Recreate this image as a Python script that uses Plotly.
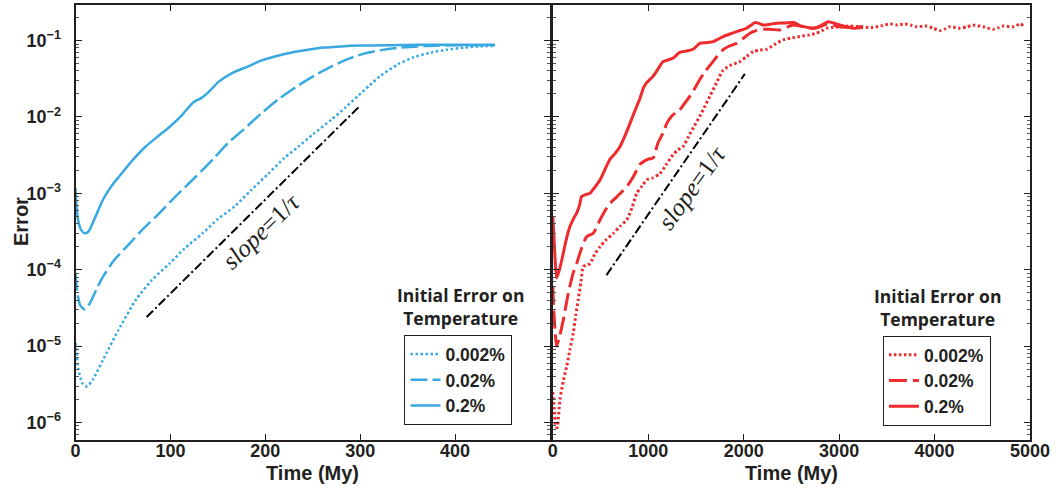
import plotly.graph_objects as go

# ---------------- data (left panel, Time in My) ----------------
blue_solid_t = [0, 1, 3, 6, 10, 14, 20, 29, 38, 46, 60, 74, 87, 99, 112, 124, 132, 140, 151, 166, 182, 196, 210, 228, 245, 262, 280, 300, 330, 360, 400, 442]
blue_solid_v = [1.17e-3, 7e-4, 4.3e-4, 3.3e-4, 3.0e-4, 3.2e-4, 4.6e-4, 8.3e-4, 1.25e-3, 1.66e-3, 2.7e-3, 4.1e-3, 5.6e-3, 7.4e-3, 1.05e-2, 1.55e-2, 1.75e-2, 2.1e-2, 2.9e-2, 3.8e-2, 4.6e-2, 5.5e-2, 6.2e-2, 7.0e-2, 7.6e-2, 8.1e-2, 8.4e-2, 8.6e-2, 8.7e-2, 8.8e-2, 8.8e-2, 8.8e-2]

blue_dash_t = [0, 2, 5, 10, 15, 22, 29, 40, 57, 70, 85, 105, 127, 145, 161, 178, 196, 215, 235, 252, 270, 288, 305, 322, 339, 360, 385, 415, 442]
blue_dash_v = [8.9e-5, 5e-5, 3.4e-5, 3.0e-5, 3.6e-5, 5.5e-5, 8.1e-5, 1.3e-4, 2.2e-4, 3.3e-4, 5e-4, 9e-4, 1.66e-3, 2.8e-3, 4.6e-3, 7e-3, 1.12e-2, 1.75e-2, 2.6e-2, 3.5e-2, 4.6e-2, 5.8e-2, 6.8e-2, 7.5e-2, 8e-2, 8.4e-2, 8.6e-2, 8.7e-2, 8.7e-2]

blue_dot_t = [0, 3, 7, 12, 18, 29, 45, 64, 80, 99, 115, 134, 150, 168, 185, 203, 220, 235, 250, 270, 285, 298, 310, 322, 340, 357, 375, 391, 410, 425, 442]
blue_dot_v = [1.1e-5, 5e-6, 3.3e-6, 2.95e-6, 3.6e-6, 6.6e-6, 1.6e-5, 4.1e-5, 7.2e-5, 1.2e-4, 1.9e-4, 3e-4, 4.6e-4, 6.8e-4, 1.1e-3, 1.8e-3, 2.9e-3, 4.1e-3, 5.9e-3, 9.3e-3, 1.35e-2, 1.9e-2, 2.6e-2, 3.5e-2, 4.9e-2, 6.1e-2, 7e-2, 7.6e-2, 8.1e-2, 8.4e-2, 8.5e-2]

slope_left_t = [75, 299]
slope_left_v = [2.4e-5, 1.37e-2]

# ---------------- data (right panel) ----------------
red_solid_t = [0, 10, 25, 40, 70, 110, 145, 180, 215, 250, 280, 302, 340, 390, 440, 495, 550, 600, 650, 705, 760, 810, 860, 913, 950, 981, 1018, 1050, 1100, 1155, 1210, 1260, 1330, 1400, 1470, 1540, 1610, 1680, 1735, 1785, 1855, 1925, 1980, 2030, 2080, 2117, 2160, 2204, 2270, 2344, 2430, 2518, 2560, 2588, 2660, 2728, 2800, 2885, 2940, 3007, 3080, 3147, 3250]
red_solid_v = [5e-4, 3e-4, 1.3e-4, 7.8e-5, 1e-4, 1.65e-4, 2.6e-4, 3.7e-4, 4.6e-4, 5.5e-4, 7e-4, 9.1e-4, 9.6e-4, 1e-3, 1.2e-3, 1.5e-3, 2.1e-3, 2.8e-3, 3.3e-3, 4.1e-3, 5.8e-3, 8.3e-3, 1.2e-2, 1.75e-2, 2.4e-2, 2.8e-2, 3.1e-2, 3.4e-2, 4.2e-2, 5.3e-2, 5.6e-2, 5.9e-2, 7e-2, 7.3e-2, 7.7e-2, 9.2e-2, 9.4e-2, 9.7e-2, 1.05e-1, 1.13e-1, 1.22e-1, 1.31e-1, 1.38e-1, 1.45e-1, 1.6e-1, 1.72e-1, 1.68e-1, 1.6e-1, 1.63e-1, 1.69e-1, 1.7e-1, 1.72e-1, 1.65e-1, 1.56e-1, 1.5e-1, 1.45e-1, 1.55e-1, 1.77e-1, 1.7e-1, 1.6e-1, 1.5e-1, 1.45e-1, 1.48e-1]

red_dash_t = [0, 10, 25, 40, 75, 110, 162, 214, 250, 285, 354, 424, 495, 550, 600, 670, 740, 790, 845, 913, 950, 1000, 1050, 1100, 1155, 1200, 1245, 1290, 1330, 1380, 1435, 1490, 1540, 1600, 1662, 1720, 1785, 1850, 1925, 2000, 2065, 2130, 2204, 2290, 2378, 2450, 2518, 2600, 2728, 2800, 2867, 2940, 3007, 3100, 3250]
red_dash_v = [6e-5, 3e-5, 1.5e-5, 1e-5, 1.4e-5, 2.2e-5, 4.9e-5, 9.1e-5, 1.2e-4, 1.66e-4, 2.7e-4, 3e-4, 4.5e-4, 6e-4, 7.4e-4, 9e-4, 1.1e-3, 1.3e-3, 1.66e-3, 2.4e-3, 2.6e-3, 2.8e-3, 2.9e-3, 4.5e-3, 6.2e-3, 8.5e-3, 1.02e-2, 1.15e-2, 1.24e-2, 1.5e-2, 1.86e-2, 2.4e-2, 3.1e-2, 4e-2, 5e-2, 6.2e-2, 7.6e-2, 8.5e-2, 9.2e-2, 1.08e-1, 1.25e-1, 1.35e-1, 1.41e-1, 1.4e-1, 1.38e-1, 1.5e-1, 1.6e-1, 1.55e-1, 1.45e-1, 1.52e-1, 1.65e-1, 1.6e-1, 1.52e-1, 1.5e-1, 1.52e-1]

red_dot_t = [0, 15, 30, 45, 75, 110, 145, 180, 214, 240, 267, 295, 320, 355, 390, 440, 495, 565, 635, 705, 775, 830, 880, 935, 985, 1050, 1120, 1190, 1260, 1310, 1366, 1420, 1480, 1540, 1590, 1645, 1715, 1785, 1870, 1960, 2030, 2100, 2170, 2240, 2330, 2414, 2500, 2588, 2680, 2762, 2820, 2867, 2940, 3007, 3110, 3215, 3355, 3450, 3534, 3610, 3688, 3750, 3810, 3915, 3990, 4055, 4110, 4160, 4265, 4340, 4405, 4510, 4614, 4670, 4720, 4825, 4895, 4930]
red_dot_v = [2.5e-6, 1.5e-6, 9e-7, 8.5e-7, 2e-6, 3.5e-6, 5.4e-6, 9e-6, 1.47e-5, 2.5e-5, 4.1e-5, 7e-5, 1.1e-4, 1.15e-4, 1.2e-4, 1.6e-4, 2e-4, 2.5e-4, 3e-4, 3.7e-4, 4.5e-4, 6.5e-4, 1e-3, 1.25e-3, 1.5e-3, 1.6e-3, 1.8e-3, 2.4e-3, 3.2e-3, 3.7e-3, 4.1e-3, 5.5e-3, 7.5e-3, 1.02e-2, 1.35e-2, 1.86e-2, 2.8e-2, 4.1e-2, 4.8e-2, 5.3e-2, 6.2e-2, 7.2e-2, 7.5e-2, 7.7e-2, 9e-2, 1.02e-1, 1.08e-1, 1.13e-1, 1.18e-1, 1.25e-1, 1.35e-1, 1.45e-1, 1.5e-1, 1.52e-1, 1.55e-1, 1.52e-1, 1.48e-1, 1.57e-1, 1.65e-1, 1.6e-1, 1.65e-1, 1.6e-1, 1.52e-1, 1.55e-1, 1.45e-1, 1.35e-1, 1.42e-1, 1.52e-1, 1.45e-1, 1.52e-1, 1.59e-1, 1.52e-1, 1.41e-1, 1.48e-1, 1.55e-1, 1.52e-1, 1.65e-1, 1.58e-1]

slope_right_t = [563, 2012]
slope_right_v = [8.5e-5, 3.66e-2]

legend_labels = ["0.002%", "0.02%", "0.2%"]
legend_title = "Initial Error on<br>Temperature"
y_tickvals = [1e-6, 1e-5, 1e-4, 1e-3, 1e-2, 1e-1]
y_ticktext = ["10<sup>\u22126</sup>", "10<sup>\u22125</sup>", "10<sup>\u22124</sup>",
              "10<sup>\u22123</sup>", "10<sup>\u22122</sup>", "10<sup>\u22121</sup>"]
y_minor_vals = [m * 10.0 ** k for k in range(-7, 0) for m in range(2, 10)]
xl_ticks = [0, 100, 200, 300, 400]
xr_ticks = [0, 1000, 2000, 3000, 4000, 5000]

BLUE = "#39a9e1"
RED = "#ee2b2d"
W, H = 1056, 492
FONT = "Liberation Sans"

fig = go.Figure()

def add(t, v, color, dash, width, name, xa, ya, leg):
    fig.add_trace(go.Scatter(x=t, y=v, mode="lines", name=name,
                             line=dict(color=color, dash=dash, width=width,
                                       shape="spline", smoothing=0.6),
                             xaxis=xa, yaxis=ya, legend=leg, legendgroup=leg + name,
                             showlegend=True))

add(blue_dot_t, blue_dot_v, BLUE, "2.5px,2.5px", 2.5, legend_labels[0], "x", "y", "legend")
add(blue_dash_t, blue_dash_v, BLUE, "17px,5px", 2.5, legend_labels[1], "x", "y", "legend")
add(blue_solid_t, blue_solid_v, BLUE, "solid", 2.5, legend_labels[2], "x", "y", "legend")
fig.add_trace(go.Scatter(x=slope_left_t, y=slope_left_v, mode="lines", showlegend=False,
                         line=dict(color="black", dash="9px,3px,2px,3px", width=2),
                         xaxis="x", yaxis="y"))

add(red_dot_t, red_dot_v, RED, "2.5px,2.5px", 3, legend_labels[0], "x2", "y2", "legend2")
add(red_dash_t, red_dash_v, RED, "18px,6px", 3, legend_labels[1], "x2", "y2", "legend2")
add(red_solid_t, red_solid_v, RED, "solid", 3, legend_labels[2], "x2", "y2", "legend2")
fig.add_trace(go.Scatter(x=slope_right_t, y=slope_right_v, mode="lines", showlegend=False,
                         line=dict(color="black", dash="9px,3px,2px,3px", width=2),
                         xaxis="x2", yaxis="y2"))

def px_x(p):
    return p / W

def px_y(p):
    return 1 - p / H

ydom = [px_y(440), px_y(4.7)]
tickfont = dict(family=FONT, size=18, color="#231f20", weight="bold")
common_ax = dict(showline=True, linecolor="#231f20", linewidth=2, mirror="ticks",
                 ticks="inside", ticklen=6, tickwidth=1.2, tickcolor="#231f20",
                 showgrid=False, zeroline=False, tickfont=tickfont, automargin=False)
ymin = dict(tickmode="array", tickvals=y_minor_vals, ticks="inside", ticklen=3,
            tickwidth=1, tickcolor="#555", showgrid=False)
legend_font = dict(family=FONT, size=17.5, weight="bold", color="#231f20")

fig.update_layout(
    width=W, height=H, margin=dict(l=0, r=0, t=0, b=0, autoexpand=False), autosize=False,
    paper_bgcolor="white", plot_bgcolor="white",
    font=dict(family=FONT, color="#231f20"),
    xaxis=dict(domain=[px_x(75.5), px_x(550)], range=[0, 500], tickvals=xl_ticks,
               ticklabelstandoff=-7, anchor="y", **common_ax),
    yaxis=dict(domain=ydom, type="log", range=[-6.23, -0.53], tickvals=y_tickvals,
               ticktext=y_ticktext, minor=ymin, anchor="x", ticklabelstandoff=9, **common_ax),
    xaxis2=dict(domain=[px_x(552.8), px_x(1030)], range=[0, 5000], tickvals=xr_ticks,
                ticklabelstandoff=-7, anchor="y2", **common_ax),
    yaxis2=dict(domain=ydom, type="log", range=[-6.23, -0.53], tickvals=y_tickvals,
                showticklabels=False, minor=ymin, anchor="x2", **common_ax),
    legend=dict(x=px_x(404.3), y=px_y(335), xanchor="left", yanchor="top",
                bgcolor="white", bordercolor="#231f20", borderwidth=1.2,
                font=legend_font, itemwidth=30, tracegroupgap=0, traceorder="normal"),
    legend2=dict(x=px_x(882.7), y=px_y(335.7), xanchor="left", yanchor="top",
                 bgcolor="white", bordercolor="#231f20", borderwidth=1.2,
                 font=legend_font, itemwidth=30, tracegroupgap=0, traceorder="normal"),
)

title_font = dict(family="Open Sans", size=17.5, weight="bold", color="#231f20")
axis_font = dict(family=FONT, size=20, weight="bold", color="#231f20")
ann = [
    dict(text=legend_title, x=px_x(460.3), y=px_y(306), xref="paper", yref="paper",
         showarrow=False, font=title_font, xanchor="center", yanchor="middle"),
    dict(text=legend_title, x=px_x(937.8), y=px_y(307), xref="paper", yref="paper",
         showarrow=False, font=title_font, xanchor="center", yanchor="middle"),
    dict(text="Error", x=px_x(21), y=px_y(222), xref="paper", yref="paper", textangle=-90,
         showarrow=False, font=axis_font, xanchor="center", yanchor="middle"),
    dict(text="Time (My)", x=px_x(312.8), y=px_y(473), xref="paper", yref="paper",
         showarrow=False, font=axis_font, xanchor="center", yanchor="middle"),
    dict(text="Time (My)", x=px_x(791.4), y=px_y(473), xref="paper", yref="paper",
         showarrow=False, font=axis_font, xanchor="center", yanchor="middle"),
    dict(text="<i>slope</i>=1/<i>\u03c4</i>", x=195, y=-3.50, xref="x", yref="y",
         textangle=-44, showarrow=False,
         font=dict(family="Liberation Serif", size=25, color="#231f20")),
    dict(text="<i>slope</i>=1/<i>\u03c4</i>", x=1458, y=-2.93, xref="x2", yref="y2",
         textangle=-54, showarrow=False,
         font=dict(family="Liberation Serif", size=25, color="#231f20")),
]
fig.update_layout(annotations=ann)

fig.write_html("out.html", config={"responsive": False, "displayModeBar": False},
               post_script="document.body.style.margin='0';document.body.style.overflow='hidden';")
